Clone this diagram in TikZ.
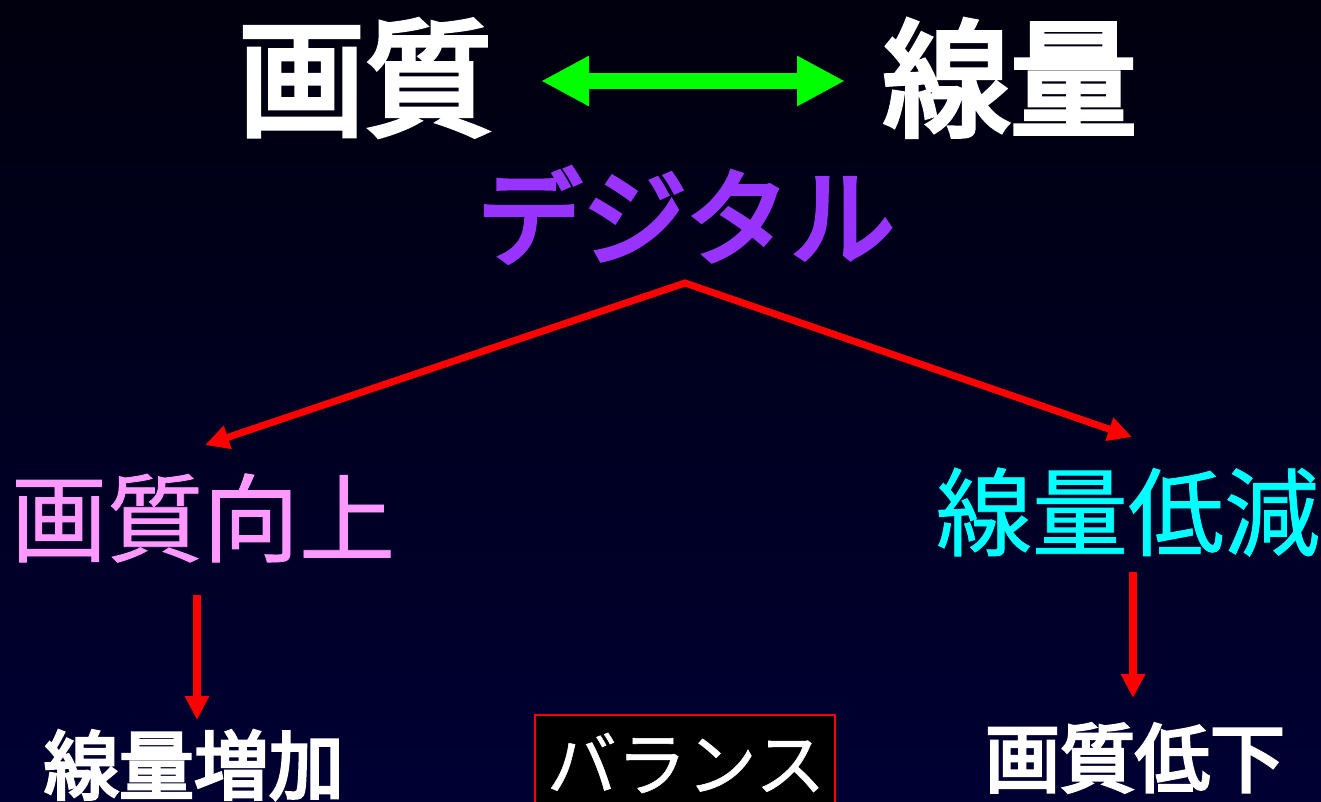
\documentclass[tikz,border=0pt]{standalone}
\usepackage{fontspec}
\newfontfamily\cjk[FakeBold=0.8]{Noto Sans CJK JP}
\newfontfamily\cjkm[FakeBold=4]{Noto Sans CJK JP}
\usetikzlibrary{arrows.meta}
\definecolor{bgtop}{HTML}{00000E}
\definecolor{bgbot}{HTML}{000033}
\definecolor{ggreen}{HTML}{00FF00}
\definecolor{rred}{HTML}{FF0000}
\definecolor{ppurple}{HTML}{9933FF}
\definecolor{ppink}{HTML}{FF99FF}
\definecolor{ccyan}{HTML}{00FFFF}
\tikzset{
  lbl/.style={inner sep=0pt, font=\cjk},
  redarrow/.style={draw=rred, line width=7pt, line join=miter},
  redtip/.tip={Triangle[length=24pt,width=23pt]},
  greentip/.tip={Triangle[length=48pt,width=47pt]},
}
\begin{document}
\begin{tikzpicture}[x=1pt,y=-1pt]
\useasboundingbox (0,0) rectangle (1321,802);
\shade[top color=bgtop, bottom color=bgbot] (0,0) rectangle (1321,802);

\node[lbl, text=white, font=\cjkm\fontsize{127}{127}\selectfont] (gq) at (365,78) {画質};
\node[lbl, text=white, font=\cjkm\fontsize{127}{127}\selectfont] (sr) at (1010,78) {線量};
\coordinate (ga) at (541,81);
\coordinate (gb) at (845,81);
\draw[ggreen, line width=16pt, {greentip}-{greentip}] (ga) -- (gb);

\node[lbl, text=ppurple, font=\cjkm\fontsize{105}{105}\selectfont] (dg) at (686,215) {デジタル};

\node[lbl, text=ppink, font=\cjk\fontsize{96}{96}\selectfont] (up) at (203,518) {画質向上};
\node[lbl, text=ccyan, font=\cjk\fontsize{96}{96}\selectfont] (dn) at (1128,512) {線量低減};

\coordinate (apex) at (685,283);
\coordinate (lq) at (205,445);
\coordinate (rq) at (1132,437);
\draw[redarrow, {redtip}-{redtip}] (lq) -- (apex) -- (rq);

\node[lbl, text=white, font=\cjkm\fontsize{75}{75}\selectfont] (inc) at (194,765) {線量増加};
\node[lbl, text=white, font=\cjkm\fontsize{75}{75}\selectfont] (dec) at (1135,758) {画質低下};

\coordinate (l1) at (197,595);
\coordinate (l2) at (197,720);
\coordinate (r1) at (1133,572);
\coordinate (r2) at (1133,698);
\draw[redarrow, line width=8pt, -{redtip}] (l1) -- (l2);
\draw[redarrow, line width=8pt, -{redtip}] (r1) -- (r2);

\draw[draw=rred, fill=black, line width=2pt] (535,715) rectangle (835,806);
\node[lbl, text=white, font=\cjk\fontsize{70}{70}\selectfont] (bal) at (686,763) {バランス};
\end{tikzpicture}
\end{document}
